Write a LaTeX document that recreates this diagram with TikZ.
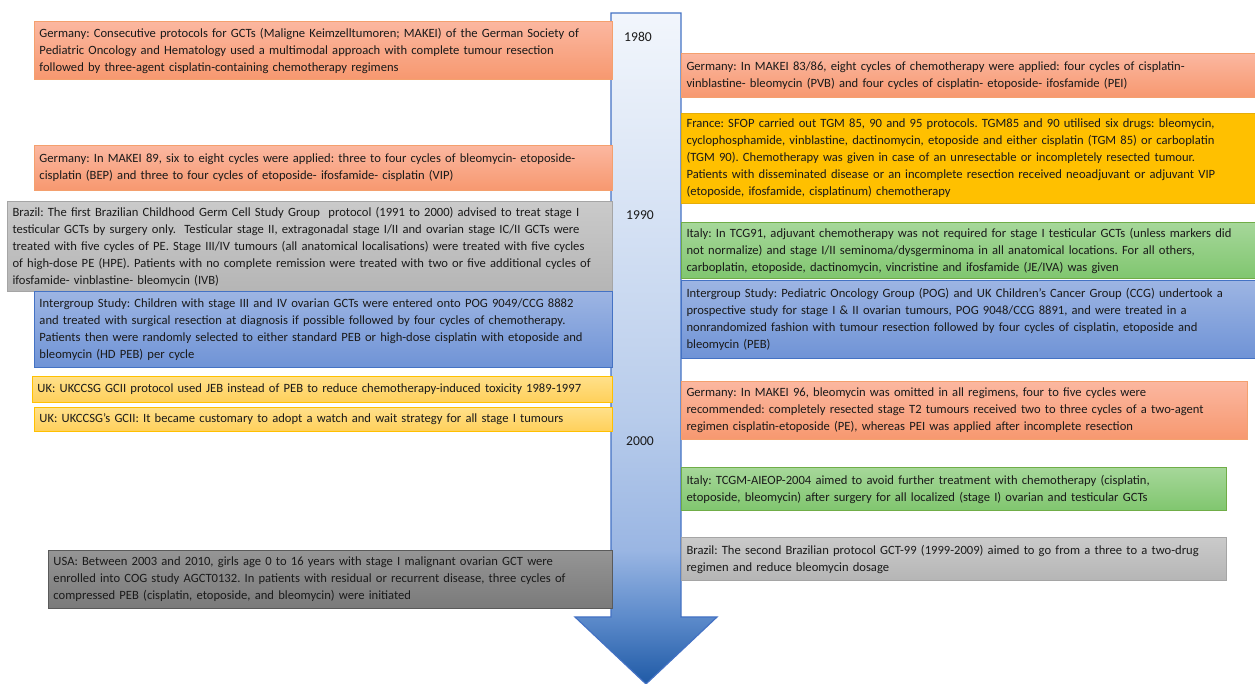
\documentclass[tikz,border=0pt]{standalone}
\usepackage{fontspec}
\setmainfont{Carlito}
\usetikzlibrary{positioning}
\frenchspacing

\definecolor{txtgray}{HTML}{1A1A1A}
\definecolor{orgtop}{HTML}{FBB7A0}
\definecolor{orgbot}{HTML}{F7986F}
\definecolor{orgline}{HTML}{F4A06E}
\definecolor{goldfill}{HTML}{FFC000}
\definecolor{goldline}{HTML}{E5AD0A}
\definecolor{yeltop}{HTML}{FFE08A}
\definecolor{yelbot}{HTML}{FFD05A}
\definecolor{yelline}{HTML}{FFC000}
\definecolor{grntop}{HTML}{A6D79A}
\definecolor{grnbot}{HTML}{80C66F}
\definecolor{grnline}{HTML}{70AD47}
\definecolor{blutop}{HTML}{9DB5E3}
\definecolor{blubot}{HTML}{6F93D6}
\definecolor{bluline}{HTML}{4472C4}
\definecolor{graytop}{HTML}{CACACA}
\definecolor{graybot}{HTML}{B5B5B5}
\definecolor{grayline}{HTML}{A5A5A5}
\definecolor{darktop}{HTML}{959595}
\definecolor{darkbot}{HTML}{7A7A7A}
\definecolor{darkline}{HTML}{5A5A5A}
\definecolor{axislight}{HTML}{F2F6FC}
\definecolor{axisupper}{HTML}{D6E2F4}
\definecolor{axismid}{HTML}{B8CCEB}
\definecolor{axislow}{HTML}{9AB6E3}
\definecolor{axishead}{HTML}{5D8BCB}
\definecolor{axisdark}{HTML}{1F5AA6}
\definecolor{axisline}{HTML}{4472C4}

% path box is mapped onto 25bp..75bp of the shading
\pgfdeclareverticalshading{timeaxis}{100bp}{color(0bp)=(axisdark); color(25bp)=(axisdark);
  color(30bp)=(axishead); color(35bp)=(axislow); color(45bp)=(axismid);
  color(60bp)=(axisupper); color(75bp)=(axislight); color(100bp)=(axislight)}

\tikzset{
  evbox/.style={draw, line width=0.5pt, inner xsep=2.5pt, inner ysep=0pt,
    align=left, anchor=north west, text=txtgray,
    font=\fontsize{6.3}{8.5}\selectfont},
  orangebox/.style={evbox, top color=orgtop, bottom color=orgbot, draw=orgline},
  goldbox/.style={evbox, fill=goldfill, draw=goldline},
  yellowbox/.style={evbox, top color=yeltop, bottom color=yelbot, draw=yelline},
  greenbox/.style={evbox, top color=grntop, bottom color=grnbot, draw=grnline},
  bluebox/.style={evbox, top color=blutop, bottom color=blubot, draw=bluline},
  graybox/.style={evbox, top color=graytop, bottom color=graybot, draw=grayline},
  darkbox/.style={evbox, top color=darktop, bottom color=darkbot, draw=darkline},
  yearlbl/.style={text=txtgray, font=\fontsize{6.8}{8}\selectfont}
}

\begin{document}
\begin{tikzpicture}[x=0.5pt,y=-0.5pt]
  \useasboundingbox (0,0) rectangle (1255,684);

  % time axis
  \coordinate (axtopl) at (611,13);
  \coordinate (axtopr) at (681,13);
  \coordinate (axtip) at (646,684);
  \draw[shading=timeaxis, draw=axisline, line width=0.6pt]
    (axtopl) -- (axtopr) -- (681,617) -- (717,617) -- (axtip)
    -- (575,617) -- (611,617) -- cycle;

  \node[yearlbl] (y1980) at (638,37) {1980};
  \node[yearlbl] (y1990) at (640,215) {1990};
  \node[yearlbl] (y2000) at (640,441) {2000};

  % left column
  \node[orangebox, text width=284pt, minimum height=29pt] (gerconsec) at (34,21)
    {Germany: Consecutive protocols for GCTs (Maligne Keimzelltumoren; MAKEI) of the German Society of\\
     Pediatric Oncology and Hematology used a multimodal approach with complete tumour resection\\
     followed by three-agent cisplatin-containing chemotherapy regimens};
  \node[orangebox, text width=284pt, minimum height=22.5pt] (makeiEN) at (34,145)
    {Germany: In MAKEI 89, six to eight cycles were applied: three to four cycles of bleomycin- etoposide-\\
     cisplatin (BEP) and three to four cycles of etoposide- ifosfamide- cisplatin (VIP)};
  \node[graybox, text width=297.5pt, minimum height=45pt] (brafirst) at (7,201)
    {Brazil: The first Brazilian Childhood Germ Cell Study Group\ \ protocol (1991 to 2000) advised to treat stage I\\
     testicular GCTs by surgery only.\ \ Testicular stage II, extragonadal stage I/II and ovarian stage IC/II GCTs were\\
     treated with five cycles of PE. Stage III/IV tumours (all anatomical localisations) were treated with five cycles\\
     of high-dose PE (HPE). Patients with no complete remission were treated with two or five additional cycles of\\
     ifosfamide- vinblastine- bleomycin (IVB)};
  \node[bluebox, text width=284pt, minimum height=38pt] (interIII) at (34,291)
    {Intergroup Study: Children with stage III and IV ovarian GCTs were entered onto POG 9049/CCG 8882\\
     and treated with surgical resection at diagnosis if possible followed by four cycles of chemotherapy.\\
     Patients then were randomly selected to either standard PEB or high-dose cisplatin with etoposide and\\
     bleomycin (HD PEB) per cycle};
  \node[yellowbox, text width=285pt, minimum height=13pt] (ukjeb) at (32,376)
    {UK: UKCCSG GCII protocol used JEB instead of PEB to reduce chemotherapy-induced toxicity 1989-1997};
  \node[yellowbox, text width=284pt, minimum height=12pt] (ukwatch) at (34,407)
    {UK: UKCCSG’s GCII: It became customary to adopt a watch and wait strategy for all stage I tumours};
  \node[darkbox, text width=277pt, minimum height=29pt] (usacog) at (48,550)
    {USA: Between 2003 and 2010, girls age 0 to 16 years with stage I malignant ovarian GCT were\\
     enrolled into COG study AGCT0132. In patients with residual or recurrent disease, three cycles of\\
     compressed PEB (cisplatin, etoposide, and bleomycin) were initiated};

  % right column
  \node[orangebox, text width=282pt, minimum height=22pt] (makeiEF) at (681,53)
    {Germany: In MAKEI 83/86, eight cycles of chemotherapy were applied: four cycles of cisplatin-\\
     vinblastine- bleomycin (PVB) and four cycles of cisplatin- etoposide- ifosfamide (PEI)};
  \node[goldbox, text width=282pt, minimum height=45pt] (frasfop) at (681,113)
    {France: SFOP carried out TGM 85, 90 and 95 protocols. TGM85 and 90 utilised six drugs: bleomycin,\\
     cyclophosphamide, vinblastine, dactinomycin, etoposide and either cisplatin (TGM 85) or carboplatin\\
     (TGM 90). Chemotherapy was given in case of an unresectable or incompletely resected tumour.\\
     Patients with disseminated disease or an incomplete resection received neoadjuvant or adjuvant VIP\\
     (etoposide, ifosfamide, cisplatinum) chemotherapy};
  \node[greenbox, text width=282pt, minimum height=28pt] (itatcg) at (681,222)
    {Italy: In TCG91, adjuvant chemotherapy was not required for stage I testicular GCTs (unless markers did\\
     not normalize) and stage I/II seminoma/dysgerminoma in all anatomical locations. For all others,\\
     carboplatin, etoposide, dactinomycin, vincristine and ifosfamide (JE/IVA) was given};
  \node[bluebox, text width=282pt, minimum height=39pt] (interI) at (681,280)
    {Intergroup Study: Pediatric Oncology Group (POG) and UK Children’s Cancer Group (CCG) undertook a\\
     prospective study for stage I \& II ovarian tumours, POG 9048/CCG 8891, and were treated in a\\
     nonrandomized fashion with tumour resection followed by four cycles of cisplatin, etoposide and\\
     bleomycin (PEB)};
  \node[orangebox, text width=278pt, minimum height=29pt] (makeiNS) at (681,381)
    {Germany: In MAKEI 96, bleomycin was omitted in all regimens, four to five cycles were\\
     recommended: completely resected stage T2 tumours received two to three cycles of a two-agent\\
     regimen cisplatin-etoposide (PE), whereas PEI was applied after incomplete resection};
  \node[greenbox, text width=267.5pt, minimum height=21.5pt] (itaaieop) at (681,467)
    {Italy: TCGM-AIEOP-2004 aimed to avoid further treatment with chemotherapy (cisplatin,\\
     etoposide, bleomycin) after surgery for all localized (stage I) ovarian and testicular GCTs};
  \node[graybox, text width=267.5pt, minimum height=21.5pt] (brasecond) at (681,537)
    {Brazil: The second Brazilian protocol GCT-99 (1999-2009) aimed to go from a three to a two-drug\\
     regimen and reduce bleomycin dosage};
\end{tikzpicture}
\end{document}
